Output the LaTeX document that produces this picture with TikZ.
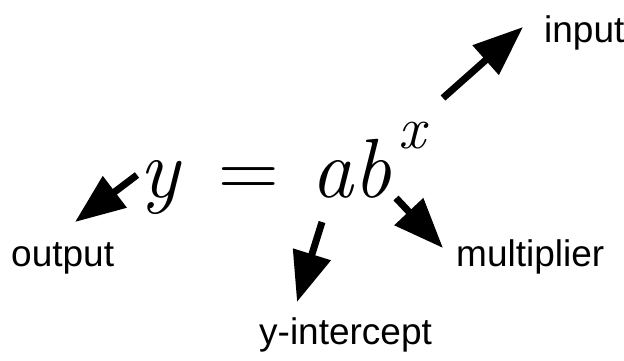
\documentclass[tikz,border=0pt]{standalone}
\usepackage{fontspec}
\newfontfamily\labelfont{Liberation Sans}
\usetikzlibrary{arrows.meta}
\begin{document}
\begin{tikzpicture}[x=1pt,y=-1pt,
  lbl/.style={font=\labelfont\fontsize{37}{42}\selectfont, inner sep=0pt, anchor=base west},
  eq/.style={font=\fontsize{84}{90}\selectfont, inner sep=0pt, anchor=base west},
  arr/.style={line width=7pt, -{Triangle[length=50pt,width=38pt]}}]
\useasboundingbox (0,0) rectangle (624,360);
% equation
\node[eq] (ysym) at (139,197) {\itshape y};
\node[eq] (eqsign) at (218,197) {=};
\node[eq] (ab) at (311,197) {\itshape ab};
\node[eq, font=\fontsize{60}{64}\selectfont] (xsup) at (398,148) {\itshape x};
% labels
\node[lbl] (input) at (544,42) {input};
\node[lbl] (output) at (11,266) {output};
\node[lbl] (mult) at (456,266) {multiplier};
\node[lbl] (yint) at (259,344) {y-intercept};
% arrow ends
\coordinate (inT) at (443,98);
\coordinate (inH) at (523,27);
\coordinate (outT) at (137,175);
\coordinate (outH) at (75,222);
\coordinate (yiT) at (322,222);
\coordinate (yiH) at (297,302);
\coordinate (muT) at (396,198);
\coordinate (muH) at (443,248);
\draw[arr] (inT) -- (inH);
\draw[arr] (outT) -- (outH);
\draw[arr] (yiT) -- (yiH);
\draw[arr] (muT) -- (muH);
\end{tikzpicture}
\end{document}
